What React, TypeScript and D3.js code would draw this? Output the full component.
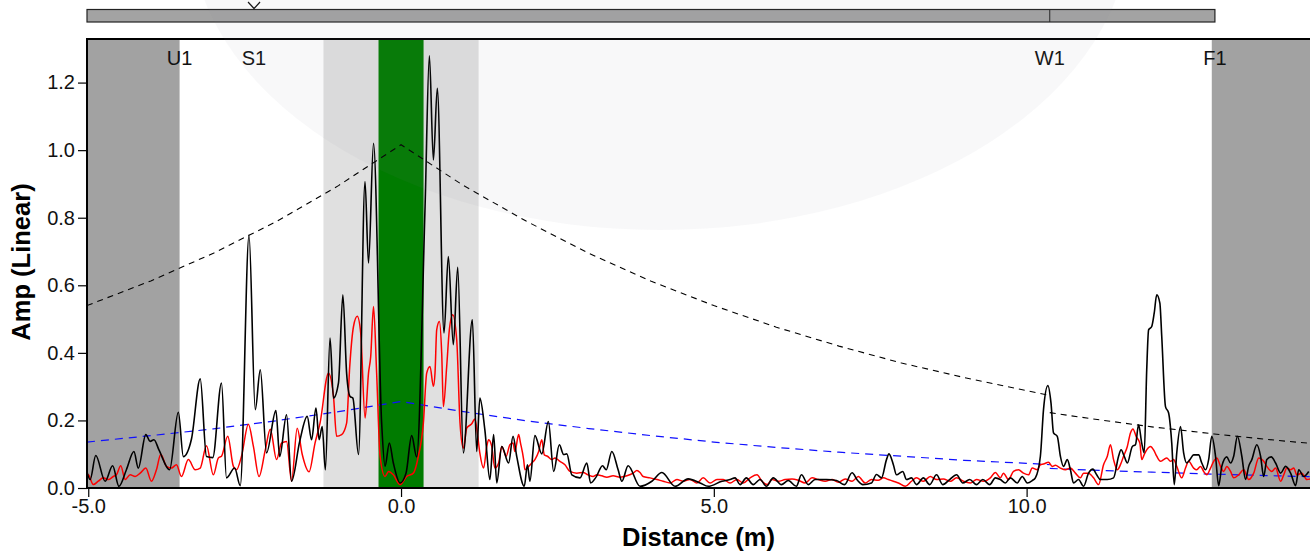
import { useEffect, useRef } from "react"
import * as d3 from "d3"

// event markers along the trace
const eventNames = ["U1", "S1", "W1", "F1"]
const eventPositions = [-3.54, -2.35, 10.37, 13.01]

// shaded zones (m)
const deadZones: [number, number][] = [[-5.02, -3.54], [12.96, 14.6]]
const nearZone: [number, number] = [-1.24, 1.24]
const launchZone: [number, number] = [-0.36, 0.36]

// measured amplitude trace (black)
const measured: [number, number][] = [
  [-5.05, 0.074], [-4.97, 0.025], [-4.88, 0.096], [-4.73, 0.02], [-4.61, 0.066], [-4.51, 0.005],
  [-4.39, 0.054], [-4.27, 0.108], [-4.2, 0.059], [-4.08, 0.158], [-4.01, 0.138], [-3.95, 0.143],
  [-3.87, 0.113], [-3.7, 0.054], [-3.56, 0.224], [-3.48, 0.093], [-3.35, 0.145], [-3.21, 0.323],
  [-3.11, 0.093], [-3.01, 0.09], [-2.87, 0.311], [-2.79, 0.03], [-2.66, 0.059], [-2.57, 0.007],
  [-2.43, 0.748], [-2.33, 0.232], [-2.25, 0.35], [-2.15, 0.104], [-2.0, 0.229], [-1.94, 0.093],
  [-1.83, 0.217], [-1.75, 0.02], [-1.62, 0.138], [-1.5, 0.212], [-1.43, 0.143], [-1.36, 0.237],
  [-1.31, 0.143], [-1.26, 0.182], [-1.21, 0.054], [-1.135, 0.444], [-1.08, 0.266], [-1.0, 0.311],
  [-0.93, 0.572], [-0.87, 0.34], [-0.815, 0.271], [-0.77, 0.266], [-0.68, 0.099], [-0.576, 0.907],
  [-0.52, 0.666], [-0.44, 1.02], [-0.31, 0.192], [-0.256, 0.064], [-0.187, 0.133], [-0.123, 0.074],
  [-0.016, 0.015], [0.08, 0.044], [0.17, 0.155], [0.25, 0.092], [0.384, 0.833], [0.453, 1.279],
  [0.517, 0.971], [0.58, 1.183], [0.687, 0.459], [0.756, 0.685], [0.836, 0.424], [0.906, 0.653],
  [0.996, 0.104], [1.14, 0.498], [1.21, 0.108], [1.26, 0.266], [1.34, 0.172], [1.42, 0.025],
  [1.48, 0.158], [1.53, 0.015], [1.61, 0.123], [1.72, 0.074], [1.79, 0.153], [1.85, 0.093],
  [1.97, 0.005], [2.02, 0.069], [2.06, 0.02], [2.14, 0.155], [2.25, 0.101], [2.355, 0.197],
  [2.44, 0.049], [2.53, 0.128], [2.6, 0.099], [2.65, 0.101], [2.73, 0.039], [2.86, 0.03],
  [2.97, 0.074], [3.03, 0.015], [3.12, 0.033], [3.22, 0.066], [3.28, 0.054], [3.37, 0.108],
  [3.47, 0.054], [3.53, 0.02], [3.63, 0.066], [3.82, 0.005], [4.01, 0.02], [4.17, 0.046],
  [4.38, 0.005], [4.59, 0.027], [4.78, 0.015], [4.91, 0.005], [5.13, 0.02], [5.26, 0.025],
  [5.34, 0.03], [5.42, 0.01], [5.52, 0.03], [5.63, 0.01], [5.74, 0.025], [5.84, 0.005],
  [5.95, 0.03], [6.08, 0.01], [6.19, 0.022], [6.32, 0.005], [6.4, 0.039], [6.51, 0.01],
  [6.62, 0.025], [6.8, 0.025], [6.96, 0.022], [7.09, 0.01], [7.21, 0.045], [7.3, 0.022],
  [7.38, 0.01], [7.52, 0.015], [7.6, 0.04], [7.68, 0.03], [7.76, 0.084], [7.8, 0.101],
  [7.87, 0.069], [7.92, 0.039], [8.02, 0.049], [8.08, 0.025], [8.16, 0.03], [8.24, 0.01],
  [8.35, 0.03], [8.45, 0.01], [8.56, 0.039], [8.66, 0.01], [8.77, 0.025], [8.88, 0.039],
  [8.98, 0.015], [9.09, 0.025], [9.2, 0.01], [9.3, 0.025], [9.41, 0.01], [9.5, 0.03],
  [9.58, 0.025], [9.66, 0.015], [9.74, 0.03], [9.85, 0.015], [9.93, 0.034], [10.01, 0.015],
  [10.09, 0.022], [10.14, 0.03], [10.22, 0.094], [10.27, 0.232], [10.34, 0.303], [10.39, 0.251],
  [10.43, 0.163], [10.49, 0.153], [10.54, 0.094], [10.59, 0.064], [10.65, 0.084], [10.7, 0.054],
  [10.75, 0.015], [10.83, 0.025], [10.91, 0.005], [10.99, 0.044], [11.06, 0.056], [11.12, 0.039],
  [11.18, 0.025], [11.29, 0.025], [11.39, 0.03], [11.47, 0.094], [11.51, 0.113], [11.56, 0.094],
  [11.61, 0.074], [11.69, 0.123], [11.74, 0.128], [11.79, 0.187], [11.84, 0.133], [11.88, 0.104],
  [11.92, 0.35], [11.95, 0.468], [12.0, 0.478], [12.04, 0.518], [12.08, 0.572], [12.13, 0.547],
  [12.16, 0.449], [12.22, 0.241], [12.27, 0.222], [12.32, 0.133], [12.36, 0.01], [12.4, 0.104],
  [12.46, 0.182], [12.51, 0.104], [12.56, 0.074], [12.61, 0.084], [12.67, 0.098], [12.75, 0.098],
  [12.8, 0.074], [12.86, 0.054], [12.91, 0.084], [12.96, 0.153], [13.02, 0.094], [13.07, 0.007],
  [13.12, 0.064], [13.2, 0.092], [13.26, 0.074], [13.31, 0.094], [13.37, 0.153], [13.44, 0.094],
  [13.5, 0.025], [13.55, 0.064], [13.6, 0.084], [13.68, 0.128], [13.74, 0.094], [13.79, 0.034],
  [13.84, 0.084], [13.91, 0.092], [13.98, 0.074], [14.06, 0.044], [14.14, 0.064], [14.22, 0.044],
  [14.3, 0.007], [14.35, 0.054], [14.43, 0.034], [14.51, 0.049],
]

// reference trace (red)
const reference: [number, number][] = [
  [-5.05, 0.034], [-5.0, 0.039], [-4.92, 0.01], [-4.84, 0.02], [-4.76, 0.03], [-4.68, 0.025],
  [-4.6, 0.034], [-4.55, 0.039], [-4.48, 0.066], [-4.41, 0.025], [-4.33, 0.039], [-4.25, 0.034],
  [-4.17, 0.044], [-4.08, 0.059], [-3.99, 0.02], [-3.91, 0.054], [-3.84, 0.1], [-3.75, 0.064],
  [-3.67, 0.059], [-3.59, 0.069], [-3.51, 0.034], [-3.4, 0.084], [-3.29, 0.054], [-3.21, 0.059],
  [-3.11, 0.125], [-3.0, 0.039], [-2.92, 0.089], [-2.87, 0.094], [-2.77, 0.153], [-2.68, 0.064],
  [-2.63, 0.054], [-2.55, 0.094], [-2.44, 0.189], [-2.36, 0.123], [-2.27, 0.034], [-2.17, 0.113],
  [-2.09, 0.174], [-1.99, 0.084], [-1.91, 0.133], [-1.83, 0.138], [-1.75, 0.02], [-1.66, 0.177],
  [-1.58, 0.1], [-1.47, 0.048], [-1.375, 0.133], [-1.295, 0.192], [-1.16, 0.34], [-1.08, 0.271],
  [-1.03, 0.153], [-0.95, 0.158], [-0.87, 0.192], [-0.82, 0.36], [-0.76, 0.478], [-0.7, 0.508],
  [-0.645, 0.459], [-0.575, 0.207], [-0.52, 0.34], [-0.485, 0.389], [-0.44, 0.537], [-0.39, 0.34],
  [-0.335, 0.094], [-0.256, 0.034], [-0.2, 0.049], [-0.123, 0.039], [-0.016, 0.01], [0.09, 0.034],
  [0.197, 0.044], [0.277, 0.094], [0.357, 0.192], [0.41, 0.34], [0.463, 0.36], [0.517, 0.301],
  [0.543, 0.34], [0.57, 0.468], [0.613, 0.493], [0.65, 0.399], [0.677, 0.241], [0.73, 0.36],
  [0.772, 0.468], [0.826, 0.513], [0.89, 0.439], [0.943, 0.192], [0.996, 0.118], [1.05, 0.177],
  [1.13, 0.19], [1.18, 0.204], [1.22, 0.163], [1.26, 0.103], [1.32, 0.059], [1.37, 0.123],
  [1.4, 0.143], [1.45, 0.123], [1.5, 0.059], [1.56, 0.074], [1.61, 0.123], [1.68, 0.094],
  [1.74, 0.128], [1.79, 0.133], [1.82, 0.108], [1.88, 0.158], [1.91, 0.133], [1.96, 0.084],
  [1.98, 0.054], [2.04, 0.064], [2.09, 0.074], [2.14, 0.084], [2.2, 0.108], [2.25, 0.143],
  [2.29, 0.098], [2.34, 0.094], [2.41, 0.084], [2.46, 0.089], [2.54, 0.079], [2.62, 0.069],
  [2.7, 0.049], [2.81, 0.044], [2.91, 0.046], [2.99, 0.039], [3.07, 0.034], [3.13, 0.039],
  [3.21, 0.036], [3.29, 0.032], [3.39, 0.036], [3.5, 0.032], [3.61, 0.036], [3.71, 0.044],
  [3.77, 0.052], [3.82, 0.046], [3.87, 0.034], [3.98, 0.03], [4.09, 0.025], [4.19, 0.02],
  [4.3, 0.015], [4.41, 0.025], [4.51, 0.02], [4.62, 0.025], [4.73, 0.015], [4.83, 0.03],
  [4.94, 0.015], [5.05, 0.025], [5.15, 0.025], [5.26, 0.015], [5.37, 0.025], [5.47, 0.015],
  [5.58, 0.03], [5.69, 0.039], [5.77, 0.02], [5.85, 0.01], [5.93, 0.025], [6.03, 0.02],
  [6.14, 0.025], [6.25, 0.027], [6.35, 0.023], [6.46, 0.015], [6.57, 0.03], [6.67, 0.025],
  [6.78, 0.02], [6.89, 0.025], [6.99, 0.017], [7.1, 0.027], [7.21, 0.02], [7.31, 0.034],
  [7.42, 0.015], [7.52, 0.025], [7.63, 0.023], [7.71, 0.03], [7.79, 0.025], [7.87, 0.02],
  [7.95, 0.015], [8.06, 0.005], [8.16, 0.02], [8.24, 0.03], [8.35, 0.02], [8.46, 0.034],
  [8.56, 0.025], [8.67, 0.027], [8.78, 0.02], [8.88, 0.03], [8.99, 0.02], [9.1, 0.015],
  [9.2, 0.025], [9.31, 0.02], [9.42, 0.03], [9.5, 0.046], [9.58, 0.03], [9.63, 0.044],
  [9.71, 0.025], [9.79, 0.049], [9.87, 0.054], [9.95, 0.044], [10.03, 0.039], [10.09, 0.059],
  [10.17, 0.054], [10.22, 0.069], [10.27, 0.071], [10.35, 0.076], [10.41, 0.064], [10.46, 0.067],
  [10.54, 0.059], [10.62, 0.054], [10.7, 0.059], [10.78, 0.044], [10.86, 0.03], [10.91, 0.044],
  [10.99, 0.044], [11.07, 0.03], [11.15, 0.01], [11.23, 0.069], [11.29, 0.094], [11.34, 0.128],
  [11.39, 0.084], [11.45, 0.054], [11.5, 0.069], [11.55, 0.094], [11.61, 0.123], [11.66, 0.163],
  [11.7, 0.175], [11.75, 0.153], [11.81, 0.133], [11.84, 0.084], [11.88, 0.099], [11.92, 0.113],
  [11.98, 0.123], [12.03, 0.113], [12.08, 0.094], [12.14, 0.079], [12.19, 0.084], [12.24, 0.089],
  [12.3, 0.079], [12.35, 0.084], [12.4, 0.064], [12.48, 0.03], [12.54, 0.059], [12.59, 0.079],
  [12.67, 0.059], [12.72, 0.054], [12.78, 0.064], [12.83, 0.049], [12.88, 0.039], [12.94, 0.059],
  [12.99, 0.079], [13.04, 0.089], [13.1, 0.064], [13.15, 0.049], [13.2, 0.064], [13.26, 0.049],
  [13.31, 0.03], [13.39, 0.039], [13.47, 0.054], [13.55, 0.025], [13.63, 0.044], [13.71, 0.089],
  [13.79, 0.079], [13.84, 0.064], [13.92, 0.049], [13.98, 0.059], [14.06, 0.02], [14.11, 0.039],
  [14.16, 0.059], [14.22, 0.054], [14.27, 0.059], [14.32, 0.039], [14.4, 0.044], [14.48, 0.025],
  [14.54, 0.027],
]

// detection threshold (black dashed), two pieces split at W1
const thresholdHigh: [number, number][][] = [
  [[-5.02, 0.54], [-4, 0.613], [-3, 0.695], [-2, 0.788], [-1, 0.895], [0, 1.016], [1, 0.895],
   [2, 0.79], [3, 0.695], [4, 0.612], [5, 0.54], [6, 0.476], [7, 0.42], [8, 0.37], [9, 0.327],
   [10, 0.288], [10.37, 0.274]],
  [[10.37, 0.223], [11, 0.206], [12, 0.181], [13, 0.16], [14, 0.141], [14.6, 0.131]],
]

// noise floor (blue dashed)
const thresholdLow: [number, number][][] = [
  [[-5.02, 0.136], [-4, 0.155], [-3, 0.175], [-2, 0.199], [-1, 0.226], [0, 0.256], [1, 0.226],
   [2, 0.199], [3, 0.176], [4, 0.155], [5, 0.136], [6, 0.12], [7, 0.106], [8, 0.094], [9, 0.082],
   [10, 0.073], [10.37, 0.069]],
  [[10.37, 0.058], [11, 0.053], [12, 0.047], [13, 0.041], [14, 0.036], [14.6, 0.033]],
]

const yTicks = [0, 0.2, 0.4, 0.6, 0.8, 1.0, 1.2]
const xTicks = [-5, 0, 5, 10]

const width = 1310
const height = 555
const margin = { top: 39, right: 0, bottom: 67, left: 87 }
const font = "'Liberation Sans', Arial, sans-serif"

const App = () => {
  const svgRef = useRef<SVGSVGElement>(null)

  useEffect(() => {
    const svg = d3.select(svgRef.current)
    svg.selectAll("*").remove()

    const x = d3.scaleLinear().domain([-5.02, 14.53]).range([margin.left, width - margin.right])
    const y = d3.scaleLinear().domain([0, 1.329]).range([height - margin.bottom, margin.top])
    const plotTop = margin.top
    const plotBottom = height - margin.bottom
    const fmt = (d: number) => d.toFixed(1)

    svg.append("defs").append("clipPath").attr("id", "plot-clip")
      .append("rect")
        .attr("x", margin.left).attr("y", plotTop)
        .attr("width", width - margin.left).attr("height", plotBottom - plotTop)

    // white plot background
    svg.append("rect")
      .attr("x", margin.left).attr("y", plotTop)
      .attr("width", width - margin.left).attr("height", plotBottom - plotTop)
      .attr("fill", "#fff")

    const zones = svg.append("g").attr("clip-path", "url(#plot-clip)")

    // grey dead zones
    zones.selectAll("rect.dead")
      .data(deadZones)
      .join("rect")
        .attr("class", "dead")
        .attr("x", d => x(d[0]))
        .attr("y", plotTop)
        .attr("width", d => x(d[1]) - x(d[0]))
        .attr("height", plotBottom - plotTop)
        .attr("fill", "#a2a2a2")

    // near zone + launch zone
    zones.append("rect")
      .attr("x", x(nearZone[0])).attr("y", plotTop)
      .attr("width", x(nearZone[1]) - x(nearZone[0])).attr("height", plotBottom - plotTop)
      .attr("fill", "#e0e0e0")
    zones.append("rect")
      .attr("x", x(launchZone[0])).attr("y", plotTop)
      .attr("width", x(launchZone[1]) - x(launchZone[0])).attr("height", plotBottom - plotTop)
      .attr("fill", "#007b00")

    // event labels
    svg.append("g")
        .attr("font-family", font)
        .attr("font-size", 20)
        .attr("text-anchor", "middle")
      .selectAll("text")
      .data(eventNames)
      .join("text")
        .attr("x", (_, i) => x(eventPositions[i]))
        .attr("y", 65)
        .attr("fill", "#111")
        .text(d => d)

    const line = d3.line<[number, number]>()
      .x(d => x(d[0]))
      .y(d => y(d[1]))

    const traces = svg.append("g").attr("clip-path", "url(#plot-clip)").attr("fill", "none")

    // dashed thresholds
    traces.selectAll("path.hi")
      .data(thresholdHigh)
      .join("path")
        .attr("class", "hi")
        .attr("d", d => line(d))
        .attr("stroke", "#000")
        .attr("stroke-width", 1.1)
        .attr("stroke-dasharray", "6,5")
    traces.selectAll("path.lo")
      .data(thresholdLow)
      .join("path")
        .attr("class", "lo")
        .attr("d", d => line(d))
        .attr("stroke", "#1010ff")
        .attr("stroke-width", 1.2)
        .attr("stroke-dasharray", "8,6")

    const smooth = line.curve(d3.curveMonotoneX)

    traces.append("path")
      .attr("d", smooth(reference))
      .attr("stroke", "#ff0000")
      .attr("stroke-width", 1.5)
      .attr("stroke-linejoin", "round")

    traces.append("path")
      .attr("d", smooth(measured))
      .attr("stroke", "#000")
      .attr("stroke-width", 1.6)
      .attr("stroke-linejoin", "round")

    // axes
    const yAxis = svg.append("g")
      .attr("transform", `translate(${margin.left},0)`)
      .call(d3.axisLeft(y).tickValues(yTicks).tickFormat(fmt).tickSize(9).tickPadding(3))
    yAxis.select(".domain").remove()
    yAxis.selectAll("text").attr("font-size", 20).attr("font-family", font).attr("fill", "#111")
    yAxis.selectAll("line").attr("stroke-width", 1.2)

    const xAxis = svg.append("g")
      .attr("transform", `translate(0,${plotBottom})`)
      .call(d3.axisBottom(x).tickValues(xTicks).tickFormat(fmt).tickSize(9).tickPadding(2))
    xAxis.select(".domain").remove()
    xAxis.selectAll("text").attr("font-size", 20).attr("font-family", font).attr("fill", "#111")
    xAxis.selectAll("line").attr("stroke-width", 1.2)

    // frame: top, left, bottom
    svg.append("path")
      .attr("d", `M${width},${plotTop}H${margin.left}V${plotBottom}H${width}`)
      .attr("fill", "none")
      .attr("stroke", "#000")
      .attr("stroke-width", 2)

    // axis titles
    svg.append("text")
      .attr("x", (margin.left + width) / 2)
      .attr("y", 546)
      .attr("text-anchor", "middle")
      .attr("font-family", font)
      .attr("font-weight", "bold")
      .attr("font-size", 25.5)
      .text("Distance (m)")
    svg.append("text")
      .attr("transform", `translate(30,262) rotate(-90)`)
      .attr("text-anchor", "middle")
      .attr("font-family", font)
      .attr("font-weight", "bold")
      .attr("font-size", 25.5)
      .text("Amp (Linear)")

    // overview bar on top
    const bar = svg.append("g")
    bar.append("rect")
      .attr("x", x(-5.02)).attr("y", 9.5)
      .attr("width", x(eventPositions[3]) - x(-5.02)).attr("height", 12.5)
      .attr("fill", "#a3a3a3")
      .attr("stroke", "#222")
      .attr("stroke-width", 1.2)
    bar.append("line")
      .attr("x1", x(eventPositions[2])).attr("x2", x(eventPositions[2]))
      .attr("y1", 9.5).attr("y2", 22)
      .attr("stroke", "#222")
    bar.append("path")
      .attr("d", `M${x(eventPositions[1]) - 6},2L${x(eventPositions[1])},8.5L${x(eventPositions[1]) + 6},2`)
      .attr("fill", "none")
      .attr("stroke", "#111")
      .attr("stroke-width", 1.2)

    // faint watermark disc
    svg.append("ellipse")
      .attr("cx", 660).attr("cy", -75)
      .attr("rx", 470).attr("ry", 305)
      .attr("fill", "rgb(130,135,150)")
      .attr("fill-opacity", 0.06)
      .attr("pointer-events", "none")
  }, [])

  return (
    <svg
      ref={svgRef}
      width={width}
      height={height}
      style={{ position: "absolute", left: 0, top: 0, display: "block", background: "#fff" }}
    />
  )
}

export default App
